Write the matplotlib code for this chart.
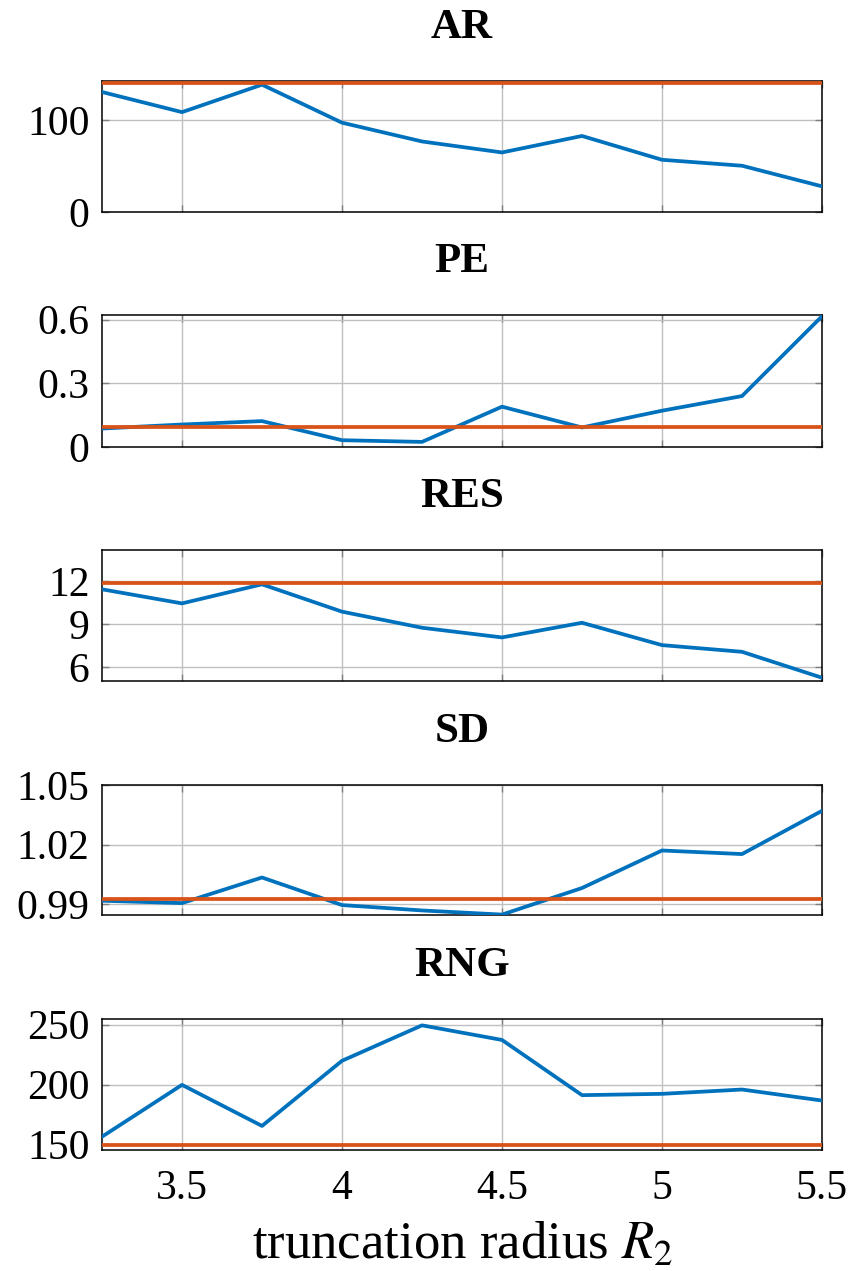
import numpy as np
import matplotlib
matplotlib.use("Agg")
import matplotlib.pyplot as plt

plt.rcParams['font.family'] = ['Liberation Serif', 'DejaVu Serif']
plt.rcParams['mathtext.fontset'] = 'stix'

radius = [3.25, 3.5, 3.75, 4.0, 4.25, 4.5, 4.75, 5.0, 5.25, 5.5]

ar = [131, 109, 139, 97.5, 77, 65, 83, 57, 50.5, 28]
ar_ref = 141
pe = [0.087, 0.106, 0.122, 0.032, 0.024, 0.19, 0.092, 0.171, 0.24, 0.616]
pe_ref = 0.095
res = [11.44, 10.45, 11.79, 9.87, 8.74, 8.06, 9.09, 7.52, 7.05, 5.23]
res_ref = 11.9
sd = [0.9917, 0.9905, 1.0034, 0.9895, 0.9868, 0.9847, 0.9981, 1.017, 1.0152, 1.037]
sd_ref = 0.9928
rng = [156.4, 199.7, 165.4, 219.8, 249.4, 237.2, 191.1, 192.2, 195.8, 186.6]
rng_ref = 149.5

titles = ["AR", "PE", "RES", "SD", "RNG"]
series = [ar, pe, res, sd, rng]
refs = [ar_ref, pe_ref, res_ref, sd_ref, rng_ref]
ylims = [(0, 143), (0, 0.622), (5.0, 14.2), (0.9845, 1.05), (145.3, 254.7)]
yticks = [[0, 100], [0, 0.3, 0.6], [6, 9, 12], [0.99, 1.02, 1.05], [150, 200, 250]]
ytlabels = [["0", "100"], ["0", "0.3", "0.6"], ["6", "9", "12"],
            ["0.99", "1.02", "1.05"], ["150", "200", "250"]]
xticks = [3.5, 4, 4.5, 5, 5.5]
xtlabels = ["3.5", "4", "4.5", "5", "5.5"]

# axes top/bottom in pixels
tops = [81, 315, 550, 785, 1019]
bots = [212, 447, 681, 915, 1150]
W, H = 850, 1271

fig = plt.figure(figsize=(8.5, 12.71), dpi=100)
for i in range(5):
    ax = fig.add_axes([102 / W, 1 - bots[i] / H, 720 / W, (bots[i] - tops[i]) / H])
    ax.plot(radius, series[i], color='#0072BD', lw=2.7, zorder=3)
    ax.axhline(refs[i], color='#D95319', lw=2.7, zorder=4)
    ax.set_xlim(3.25, 5.5)
    ax.set_ylim(*ylims[i])
    ax.set_xticks(xticks)
    ax.set_xticklabels(xtlabels)
    ax.set_yticks(yticks[i])
    ax.set_yticklabels(ytlabels[i])
    ax.grid(True, color='#bfbfbf', lw=1.0, zorder=0)
    ax.tick_params(direction='in', top=True, right=True, length=5, width=1,
                   color='#808080', labelsize=30)
    ax.tick_params(axis='y', pad=9)
    ax.tick_params(axis='x', pad=14)
    for s in ax.spines.values():
        s.set_linewidth(1.1)
    ax.set_title(titles[i], fontsize=31, fontweight='bold', pad=31)
    if i < 4:
        ax.tick_params(labelbottom=False)
    else:
        ax.set_xlabel("truncation radius $R_2$", fontsize=38, labelpad=10)

fig.savefig("out.png", dpi=100)
